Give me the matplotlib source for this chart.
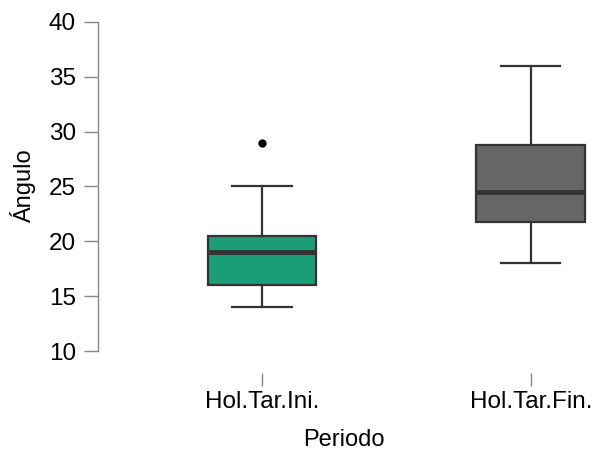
import matplotlib.pyplot as plt

plt.rcParams['font.family'] = ['Liberation Sans', 'DejaVu Sans']

groups = ['Hol.Tar.Ini.', 'Hol.Tar.Fin.']
whislo = [14, 18]
q1 = [16, 21.75]
med = [19, 24.5]
q3 = [20.5, 28.75]
whishi = [25, 36]
outliers = [[29], []]
colors = ['#1b9e77', '#666666']

stats = []
for i in range(len(groups)):
    stats.append(dict(label=groups[i], whislo=whislo[i], q1=q1[i], med=med[i],
                      q3=q3[i], whishi=whishi[i], fliers=outliers[i]))

fig = plt.figure(figsize=(5.95, 4.53), dpi=100)
ax = fig.add_axes([98 / 595, 1 - 351 / 453, 492 / 595, 329 / 453])

bp = ax.bxp(stats, positions=[1, 2], widths=0.405, patch_artist=True,
            boxprops=dict(edgecolor='#333333', linewidth=1.6),
            medianprops=dict(color='#333333', linewidth=3.5),
            whiskerprops=dict(color='#333333', linewidth=1.6),
            capprops=dict(color='#333333', linewidth=1.6),
            capwidths=0.22,
            flierprops=dict(marker='o', markerfacecolor='black', markeredgecolor='black',
                            markersize=5))
for patch, c in zip(bp['boxes'], colors):
    patch.set_facecolor(c)

ax.set_xlim(0.39, 2.22)
ax.set_ylim(10, 40)
ax.set_yticks([10, 15, 20, 25, 30, 35, 40])

for s in ['top', 'right']:
    ax.spines[s].set_visible(False)
ax.spines['bottom'].set_position(('outward', 16))
ax.spines['bottom'].set_visible(False)
ax.spines['left'].set_color('#888888')
ax.spines['left'].set_linewidth(1.0)

ax.tick_params(axis='y', length=10, width=1.0, color='#888888', labelsize=17.5, pad=6)
ax.tick_params(axis='x', length=9, width=1.0, color='#888888', labelsize=17.5, pad=4)

ax.set_ylabel('Ángulo', fontsize=17, labelpad=9)
ax.set_xlabel('Periodo', fontsize=17, labelpad=11)

fig.savefig('out.png', dpi=100)
